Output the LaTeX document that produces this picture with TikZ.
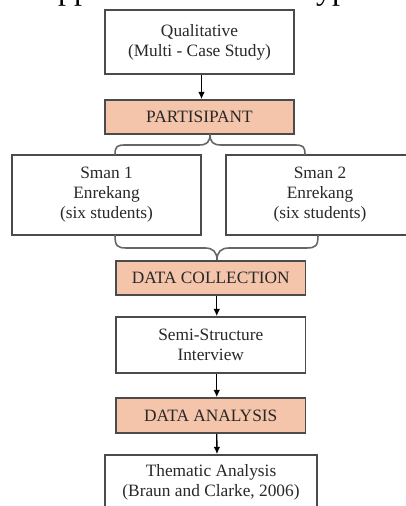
\documentclass[tikz,border=0pt]{standalone}
\usepackage{fontspec}
\setmainfont{Liberation Serif}
\usetikzlibrary{arrows.meta}
\definecolor{bordc}{RGB}{75,75,75}
\definecolor{txtc}{RGB}{40,40,40}
\definecolor{orng}{RGB}{244,197,170}
\begin{document}
\begin{tikzpicture}[x=0.75pt,y=-0.75pt,
  box/.style={draw=bordc, line width=1.2pt, fill=white, align=center,
    font=\fontsize{13}{15}\selectfont, text=txtc, inner sep=0pt},
  hbox/.style={box, fill=orng},
  arr/.style={-{Latex[length=5.5pt,width=5pt]}, line width=1pt, black},
  brc/.style={draw=bordc!85, line width=1.2pt},
  frag/.style={font=\fontsize{24}{26}\selectfont, anchor=base, inner sep=0pt, text=black}]
\useasboundingbox (0,0) rectangle (406,506);
\fill[white] (0,0) rectangle (406,506);
\begin{scope}
\clip (0,0) rectangle (406,506);
\node[frag] (f1) at (74,0) {pp};
\node[frag] (f2) at (332,0) {yp};

\node[box, minimum width=141.75pt, minimum height=48pt] (qual) at (199.5,42)
  {Qualitative\\(Multi - Case Study)};
\node[hbox, minimum width=141.75pt, minimum height=25.5pt] (part) at (199.5,117)
  {PARTISIPANT};
\node[box, minimum width=141.75pt, minimum height=60pt] (s1) at (106.5,195)
  {Sman 1\\Enrekang\\(six students)};
\node[box, minimum width=141pt, minimum height=60pt] (s2) at (320,195)
  {Sman 2\\Enrekang\\(six students)};
\node[hbox, minimum width=142pt, minimum height=25.5pt] (dc) at (210.75,278)
  {DATA COLLECTION};
\node[box, minimum width=142pt, minimum height=42pt] (semi) at (210.75,345)
  {Semi-Structure\\Interview};
\node[hbox, minimum width=142pt, minimum height=26.25pt] (da) at (210.75,415.5)
  {DATA ANALYSIS};
\node[box, minimum width=159pt, minimum height=40.5pt] (them) at (211,482)
  {Thematic Analysis\\(Braun and Clarke, 2006)};

\draw[arr] ([xshift=1.5pt]qual.south) -- ([xshift=1.5pt]part.north);
\draw[arr] ([xshift=4.5pt]dc.south) -- ([xshift=4.5pt]semi.north);
\draw[arr] ([xshift=4.5pt]semi.south) -- ([xshift=4.5pt]da.north);
\draw[arr] ([xshift=4.5pt]da.south) -- ([xshift=4.5pt]them.north);

% top brace
\coordinate (tA) at (115,155);
\coordinate (tT) at (210,134);
\coordinate (tB) at (305,155);
\draw[brc] (tA) .. controls (115,146) and (117,145) .. (126,145) -- (199,145)
  .. controls (207,145) and (210,142) .. (tT)
  .. controls (210,142) and (213,145) .. (221,145) -- (294,145)
  .. controls (303,145) and (305,146) .. (tB);
% bottom brace
\coordinate (bA) at (115,235);
\coordinate (bT) at (217,260);
\coordinate (bB) at (318,235);
\draw[brc] (bA) .. controls (115,246) and (117,248) .. (127,248) -- (205,248)
  .. controls (213,248) and (217,252) .. (bT)
  .. controls (217,252) and (221,248) .. (229,248) -- (306,248)
  .. controls (316,248) and (318,246) .. (bB);
\end{scope}
\end{tikzpicture}
\end{document}
